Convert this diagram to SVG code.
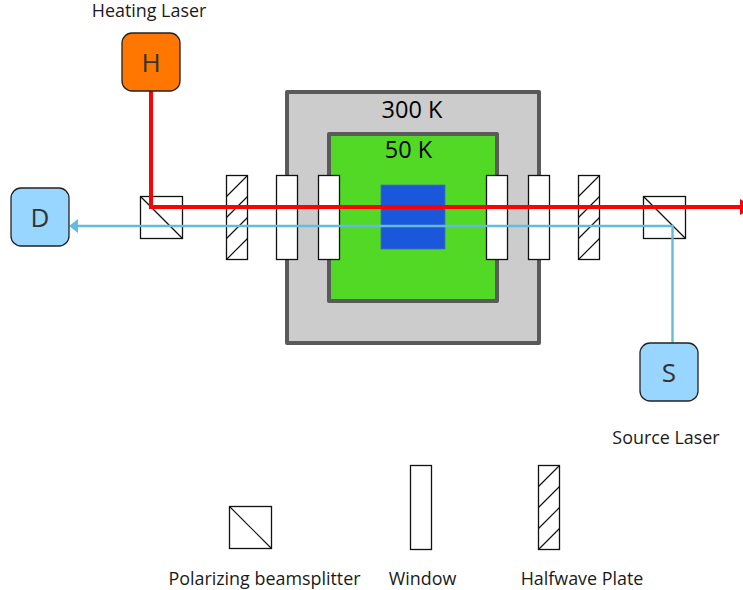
<svg xmlns="http://www.w3.org/2000/svg" width="743" height="590" viewBox="0 0 743 590">
<style>
text{font-family:"Open Sans","Noto Sans","Liberation Sans",sans-serif;fill:#1a1a1a;text-anchor:middle}
.lab{font-size:17.900px}
.temp{font-size:23.500px;fill:#000}
.big{font-size:26px;fill:#333}
.src{fill:#99d6ff;stroke:#222;stroke-width:1.3}
.opt{fill:#fff;stroke:#111;stroke-width:1.3}
.ln{fill:none;stroke:#111;stroke-width:1.2}
.ch{stroke:#5a5a5a;stroke-width:4;stroke-linejoin:round}
</style>
<defs>
<g id="pbs"><rect class="opt" width="42" height="42"/><path class="ln" d="M0 0L42 42"/></g>
<rect id="win" class="opt" width="21" height="84"/>
<g id="hwp"><rect class="opt" width="21" height="84"/><path class="ln" d="M0 21L21 0M0 42L21 21M0 63L21 42M0 84L21 63"/></g>
<marker id="ah" markerUnits="userSpaceOnUse" markerWidth="9" markerHeight="14" refX="0" refY="7" orient="auto"><path d="M9 7L0 0V14Z" fill="#66bbdd"/></marker>
<marker id="rh" markerUnits="userSpaceOnUse" markerWidth="14" markerHeight="16" refX="0" refY="8" orient="auto"><path d="M0 0L14 8L0 16Z" fill="#f00"/></marker>
</defs>
<g id="cryostat-300k"><rect class="ch" x="287" y="92" width="252" height="251" fill="#cccccc"/><text class="temp" x="412" y="118">300 K</text></g>
<g id="cryostat-50k"><rect class="ch" x="329" y="134" width="168" height="167" fill="#52d926"/><text class="temp" x="408.500" y="158">50 K</text></g>
<g id="sample"><rect x="381" y="185" width="64" height="64" fill="#1b57db" stroke="#4a6fb0" stroke-width="0.800"/></g>
<g id="optics">
<use href="#pbs" x="140.500" y="196.500"/>
<use href="#hwp" x="226.500" y="175.500"/>
<use href="#win" x="276.500" y="175.500"/>
<use href="#win" x="318.500" y="175.500"/>
<use href="#win" x="486.500" y="175.500"/>
<use href="#win" x="528.500" y="175.500"/>
<use href="#hwp" x="578.500" y="175.500"/>
<use href="#pbs" x="643.500" y="196.500"/>
</g>
<g id="connectors" fill="none" stroke-linejoin="miter">
<path d="M672.500 343V226H78" stroke="#66bbdd" stroke-width="2.400" marker-end="url(#ah)"/>
<path d="M151 91V207H740" stroke="#f00" stroke-width="4" marker-end="url(#rh)"/>
</g>
<g id="heating-laser"><rect class="src" x="122" y="33" width="58" height="58" rx="10" style="fill:#ff7700"/><text class="big" x="151" y="72">H</text><text class="lab" x="149" y="17">Heating Laser</text></g>
<g id="detector"><rect class="src" x="11" y="188" width="58" height="58" rx="10"/><text class="big" x="40" y="227">D</text></g>
<g id="source-laser"><rect class="src" x="640" y="343" width="58" height="58" rx="10"/><text class="big" x="669" y="382">S</text><text class="lab" x="666" y="444">Source Laser</text></g>
<g id="legend">
<use href="#pbs" x="229.500" y="506.500"/>
<use href="#win" x="410.500" y="465.500"/>
<use href="#hwp" x="538.500" y="465.500"/>
<text class="lab" x="264.500" y="584.500">Polarizing beamsplitter</text>
<text class="lab" x="422.500" y="584.500">Window</text>
<text class="lab" x="582" y="584.500">Halfwave Plate</text>
</g>
</svg>
